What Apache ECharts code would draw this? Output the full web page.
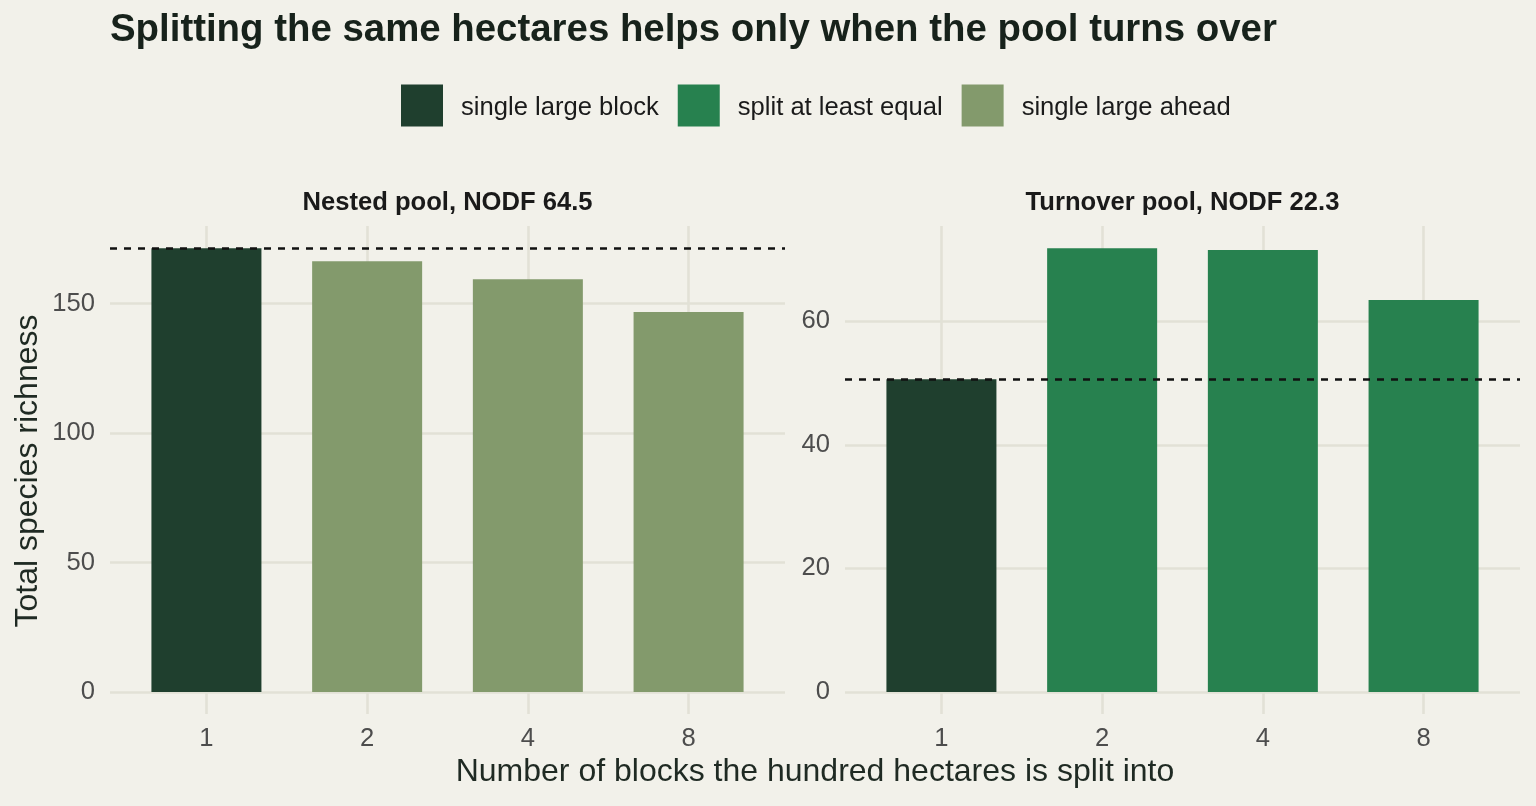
<!DOCTYPE html>
<html>
<head>
<meta charset="utf-8">
<script src="https://cdn.jsdelivr.net/npm/echarts@6/dist/echarts.min.js"></script>
<style>
html,body{margin:0;padding:0;background:#f2f1ea;}
#chart{width:1536px;height:806px;}
</style>
</head>
<body>
<div id="chart"></div>
<script>
// ---- data ----
var categories = ['1', '2', '4', '8'];
var nestedRichness = [171.4, 166.4, 159.4, 146.8];
var turnoverRichness = [50.6, 71.8, 71.5, 63.4];
var nestedStatus = ['single large block', 'single large ahead', 'single large ahead', 'single large ahead'];
var turnoverStatus = ['single large block', 'split at least equal', 'split at least equal', 'split at least equal'];
var legendNames = ['single large block', 'split at least equal', 'single large ahead'];
var panelTitles = ['Nested pool, NODF 64.5', 'Turnover pool, NODF 22.3'];
var nestedTicks = [0, 50, 100, 150];
var turnoverTicks = [0, 20, 40, 60];

// ---- styling ----
var FONT = '"Liberation Sans", Arial, Helvetica, sans-serif';
var BG = '#f2f1ea';
var GRID = '#e2e1d6';
var GRID_W = 2.6;
var colors = {
  'single large block': '#1f3f2e',
  'split at least equal': '#27814f',
  'single large ahead': '#839a6c'
};
var catIdx = categories.map(function (c, i) { return i; });

var chart = echarts.init(document.getElementById('chart'), null, {renderer: 'canvas'});

function panelSeries(values, status, gi) {
  var out = [];
  legendNames.forEach(function (name) {
    var d = [];
    values.forEach(function (v, i) { if (status[i] === name) d.push([i, v]); });
    if (!d.length) return;
    out.push({
      name: name, type: 'bar', xAxisIndex: gi, yAxisIndex: gi,
      data: d, barWidth: 110, barGap: '-100%',
      itemStyle: {color: colors[name]}, z: 2, silent: true
    });
  });
  // vertical grid lines at category centres (behind bars)
  out.push({
    type: 'line', xAxisIndex: gi, yAxisIndex: gi, data: [], z: 1, silent: true,
    markLine: {
      z: 1, silent: true, symbol: ['none', 'none'], label: {show: false},
      lineStyle: {color: GRID, width: GRID_W, type: 'solid'},
      emphasis: {disabled: true},
      data: catIdx.map(function (i) { return {xAxis: i}; })
    }
  });
  // dashed reference line at single-block richness
  out.push({
    type: 'line', xAxisIndex: gi, yAxisIndex: gi, data: [], z: 5, silent: true,
    markLine: {
      z: 5, silent: true, symbol: ['none', 'none'], label: {show: false},
      lineStyle: {color: '#111', width: 2.6, type: [7, 7]},
      emphasis: {disabled: true},
      data: [{yAxis: values[0]}]
    }
  });
  return out;
}

function xAxisDef(gi) {
  return {
    type: 'value', gridIndex: gi, min: -0.6, max: 3.6,
    axisLine: {show: false},
    splitLine: {show: false},
    axisTick: {show: true, customValues: catIdx, length: 22, lineStyle: {color: GRID, width: GRID_W}},
    axisLabel: {
      customValues: catIdx, margin: 34, color: '#4d4d4d', fontSize: 25.6, fontFamily: FONT,
      formatter: function (v) { return categories[Math.round(v)]; }
    }
  };
}
function yAxisDef(gi, values, ticks) {
  return {
    type: 'value', gridIndex: gi, min: 0, max: Math.max.apply(null, values) * 1.05,
    interval: ticks[1] - ticks[0],
    axisLine: {show: false}, axisTick: {show: false},
    splitLine: {show: true, showMaxLine: false, lineStyle: {color: GRID, width: GRID_W}},
    axisLabel: {margin: 15, color: '#4d4d4d', fontSize: 25.6, fontFamily: FONT, showMaxLabel: false}
  };
}

var option = {
  backgroundColor: BG,
  animation: false,
  textStyle: {fontFamily: FONT},
  legend: {
    data: legendNames, left: 401, top: 84.5, orient: 'horizontal', padding: 0,
    itemWidth: 42, itemHeight: 42, itemGap: 19, icon: 'rect',
    selectedMode: false,
    formatter: '{t|{name}}',
    textStyle: {
      fontSize: 25.6, color: '#1a1a1a', fontFamily: FONT, padding: [0, 0, 0, 13],
      rich: {t: {fontSize: 25.6, color: '#1a1a1a', fontFamily: FONT, padding: [5, 0, 0, 0]}}
    }
  },
  grid: [
    {left: 110, width: 675, top: 226, height: 466},
    {left: 845, width: 675, top: 226, height: 466}
  ],
  xAxis: [xAxisDef(0), xAxisDef(1)],
  yAxis: [yAxisDef(0, nestedRichness, nestedTicks), yAxisDef(1, turnoverRichness, turnoverTicks)],
  series: panelSeries(nestedRichness, nestedStatus, 0).concat(panelSeries(turnoverRichness, turnoverStatus, 1)),
  graphic: [
    {type: 'text', x: 110, y: 30, silent: true, style: {
      text: 'Splitting the same hectares helps only when the pool turns over',
      font: 'bold 38.4px ' + FONT, fill: '#17221b', align: 'left', verticalAlign: 'middle'}},
    {type: 'text', x: 447.5, y: 203, silent: true, style: {
      text: panelTitles[0], font: 'bold 25.6px ' + FONT, fill: '#1a1a1a', align: 'center', verticalAlign: 'middle'}},
    {type: 'text', x: 1182.5, y: 203, silent: true, style: {
      text: panelTitles[1], font: 'bold 25.6px ' + FONT, fill: '#1a1a1a', align: 'center', verticalAlign: 'middle'}},
    {type: 'text', x: 815, y: 772, silent: true, style: {
      text: 'Number of blocks the hundred hectares is split into',
      font: '32px ' + FONT, fill: '#1f2a23', align: 'center', verticalAlign: 'middle'}},
    {type: 'text', x: 28, y: 471, rotation: Math.PI / 2, silent: true, style: {
      text: 'Total species richness',
      font: '32px ' + FONT, fill: '#1f2a23', align: 'center', verticalAlign: 'middle'}}
  ]
};
chart.setOption(option);
</script>
</body>
</html>
